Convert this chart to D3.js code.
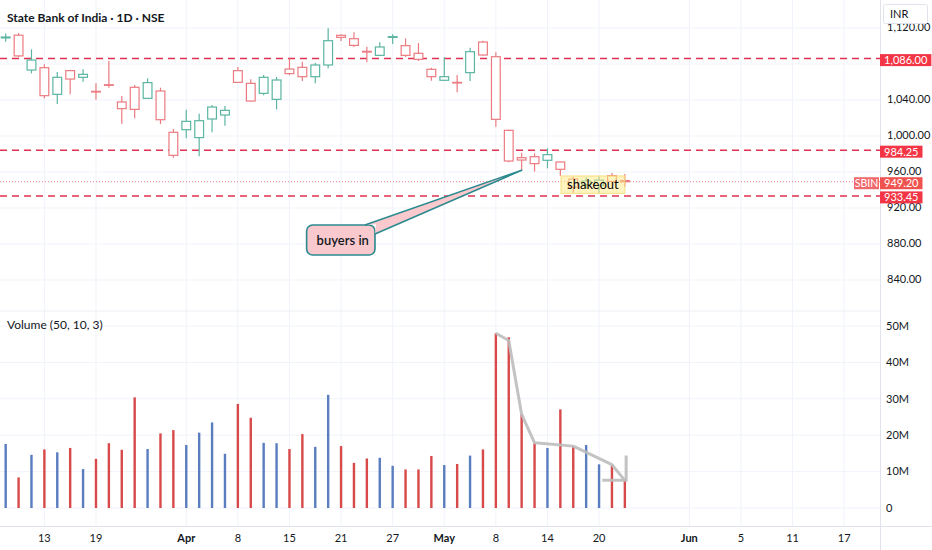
<!DOCTYPE html>
<html>
<head>
<meta charset="utf-8">
<script src="https://cdn.jsdelivr.net/npm/d3@7"></script>
<style>
  body { margin: 0; background: #fff; }
  svg { display: block; font-family: Lato, "Open Sans", sans-serif; }
</style>
</head>
<body>
<svg id="chart" width="932" height="550"></svg>
<script>
// daily bars, oldest first
const open = [1109, 1112, 1073.3, 1075.9, 1046.3, 1072.6, 1065.2, 1049.6, 1057, 1037.8,
  1054.1, 1041.8, 1050, 1004.1, 1007, 998.2, 1018.9, 1023.3, 1072.6, 1058.5,
  1047.4, 1040.7, 1074.4, 1076.3, 1065.9, 1078.9, 1111.9, 1108.1, 1094.1, 1089.6,
  1109.6, 1100.4, 1091.9, 1074.1, 1061.9, 1059.6, 1070.4, 1104.4, 1088.1, 1006.3,
  975.9, 977, 973, 971.1, 952.2, 946, 945, 956, 950.5];
const high = [1114, 1114.4, 1096.3, 1079.6, 1071.1, 1073.5, 1074.1, 1058.5, 1083.3, 1044.4,
  1056.7, 1064.1, 1053.7, 1007.8, 1029.3, 1024.8, 1034.4, 1033.3, 1076.7, 1063,
  1067.8, 1065.6, 1086.3, 1082.6, 1081.5, 1119.6, 1113, 1115.2, 1099.3, 1104.1,
  1113, 1108.5, 1103.3, 1075.9, 1087.4, 1067.8, 1098.1, 1105.9, 1093, 1007,
  981.5, 980.7, 986.3, 971.5, 954.6, 954, 955, 959, 957.8];
const low = [1104.8, 1087.4, 1069.6, 1041.8, 1035.6, 1046.3, 1060.4, 1040.4, 1053.7, 1013.7,
  1019.6, 1041.1, 1013.3, 975.9, 997.4, 977.4, 1004.1, 1011.5, 1058.9, 1038.1,
  1045.2, 1029.6, 1067.8, 1061.1, 1058.5, 1075.2, 1105.6, 1098.9, 1081.9, 1089.3,
  1102.2, 1087.8, 1083.3, 1061.5, 1061.5, 1048.5, 1061.1, 1089.3, 1010.4, 970.7,
  961.5, 960.4, 964.1, 955.6, 937, 941, 937, 947.5, 943.7];
const close = [1110, 1089, 1084.4, 1044.8, 1065.2, 1063.3, 1068.5, 1048.9, 1056.3, 1030.4,
  1029.6, 1059.3, 1018.1, 978.5, 1016.3, 1017, 1032.2, 1028.5, 1059.6, 1038.9,
  1065.2, 1062.2, 1069.3, 1065.9, 1078.9, 1105.9, 1109.6, 1100.7, 1093.3, 1098.9,
  1110.4, 1089.6, 1085.2, 1065.9, 1065.9, 1058.9, 1093.7, 1090, 1018.5, 972.2,
  973.3, 969.3, 979.3, 963, 943, 950, 951, 949.5, 949.2];
// volume in millions
const volume = [17.6, 8.4, 14.6, 16.1, 15.3, 16.5, 10.7, 13.5, 17.8, 16,
  30.4, 16.2, 20.5, 21.4, 17.3, 20.7, 23.5, 14.9, 28.6, 24.8,
  17.9, 17.8, 16.2, 20.3, 16.8, 31.1, 17, 12.4, 13.6, 13.8,
  11.6, 10.6, 10.6, 14.3, 11.8, 12.1, 14.4, 16.1, 48, 46.9,
  25.7, 17.8, 16.5, 27.1, 16.8, 17.3, 12, 11.8, 7.7];

const tickLabels = ["13", "19", "Apr", "8", "15", "21", "27", "May", "8", "14", "20", "Jun", "5", "11", "17"];
const tickIndex = [3, 7, 14, 18, 22, 26, 30, 34, 38, 42, 46, 53, 57, 61, 65];
const monthLabels = ["Apr", "May", "Jun"];

const priceTicks = [840, 880, 920, 960, 1000, 1040, 1080, 1120];
// 1,080.00 sits under the 1,086.00 tag, so it gets no label
const priceLabelTicks = [840, 880, 920, 960, 1000, 1040, 1120];
const volTicks = [0, 10, 20, 30, 40, 50];

const levels = [1086, 984.25, 933.45];

// hand drawn volume trend line
const trendIndex = [38, 39, 40, 41, 44, 47, 48];
const trendValue = [48, 46, 25.7, 17.9, 17.0, 11.9, 7.6];
const hookIndex = [46.25, 48.1, 48.1];
const hookValue = [7.6, 7.6, 14.4];

const W = 932, H = 550;
const plotRight = 880, axisBottom = 526, paneSplit = 311;
const red = "#eb7b80", teal = "#5bb5a2";
const volRed = "#d84a4a", volBlue = "#5a7dc0";
const dark = "#131722";

const svg = d3.select("#chart");
const x = d3.scaleLinear().domain([-0.44, 67.78]).range([0, plotRight]);
const y = d3.scaleLinear().domain([840, 1120]).range([280, 28]);
const yVol = d3.scaleLinear().domain([0, 50]).range([508, 326]);
const fmt = d3.format(",.2f");

svg.append("rect").attr("width", W).attr("height", H).attr("fill", "#fff");

// grid
const grid = svg.append("g").attr("stroke", "#f0f3fa").attr("stroke-width", 1);
grid.selectAll(".vg").data(tickIndex).join("line")
  .attr("x1", (d) => x(d)).attr("x2", (d) => x(d))
  .attr("y1", 0).attr("y2", axisBottom);
grid.selectAll(".pg").data(priceTicks).join("line")
  .attr("x1", 0).attr("x2", plotRight)
  .attr("y1", (d) => y(d)).attr("y2", (d) => y(d));
grid.selectAll(".volg").data(volTicks).join("line")
  .attr("x1", 0).attr("x2", plotRight)
  .attr("y1", (d) => yVol(d)).attr("y2", (d) => yVol(d));
svg.append("line").attr("x1", 0).attr("x2", plotRight)
  .attr("y1", paneSplit).attr("y2", paneSplit).attr("stroke", "#eceef3");

// horizontal levels
svg.append("g").selectAll("line").data(levels).join("line")
  .attr("x1", 0).attr("x2", plotRight)
  .attr("y1", (d) => y(d)).attr("y2", (d) => y(d))
  .attr("stroke", "#e0314f").attr("stroke-width", 1.5)
  .attr("stroke-dasharray", "7,5");

const lastPrice = close[close.length - 1];
svg.append("line").attr("x1", 0).attr("x2", plotRight)
  .attr("y1", y(lastPrice)).attr("y2", y(lastPrice))
  .attr("stroke", "#f07888").attr("stroke-dasharray", "1,2");

// candles
const bars = d3.range(close.length);
const bodyW = (x(1) - x(0)) * 0.68;
const candle = svg.append("g").selectAll("g").data(bars).join("g");
candle.append("line")
  .attr("x1", (i) => x(i)).attr("x2", (i) => x(i))
  .attr("y1", (i) => y(high[i])).attr("y2", (i) => y(low[i]))
  .attr("stroke", (i) => (close[i] >= open[i] ? teal : red))
  .attr("stroke-width", 1.2);
candle.append("rect")
  .attr("x", (i) => x(i) - bodyW / 2)
  .attr("width", bodyW)
  .attr("y", (i) => y(Math.max(open[i], close[i])))
  .attr("height", (i) => Math.max(0.5, Math.abs(y(open[i]) - y(close[i]))))
  .attr("fill", "#fff")
  .attr("stroke", (i) => (close[i] >= open[i] ? teal : red))
  .attr("stroke-width", 1.2);

// volume
svg.append("g").selectAll("rect").data(bars).join("rect")
  .attr("x", (i) => x(i) - 1.2)
  .attr("width", 2.4)
  .attr("y", (i) => yVol(volume[i]))
  .attr("height", (i) => yVol(0) - yVol(volume[i]))
  .attr("fill", (i) => (close[i] >= open[i] ? volBlue : volRed));

const trendLine = d3.line().x((d) => x(d[0])).y((d) => yVol(d[1]));
svg.append("path")
  .attr("d", trendLine(d3.zip(trendIndex, trendValue)))
  .attr("fill", "none").attr("stroke", "#bdbdbd").attr("stroke-width", 3)
  .attr("stroke-linejoin", "round").attr("stroke-opacity", 0.9);
svg.append("path")
  .attr("d", trendLine(d3.zip(hookIndex, hookValue)))
  .attr("fill", "none").attr("stroke", "#bdbdbd").attr("stroke-width", 3)
  .attr("stroke-opacity", 0.9);

svg.append("text").attr("x", 7).attr("y", 329)
  .attr("font-size", 12).attr("fill", dark)
  .text("Volume (50, 10, 3)");

// annotations
const shake = { i0: 43.05, i1: 48.0, p0: 955.6, p1: 936.3 };
svg.append("rect")
  .attr("x", x(shake.i0)).attr("y", y(shake.p0))
  .attr("width", x(shake.i1) - x(shake.i0))
  .attr("height", y(shake.p1) - y(shake.p0))
  .attr("fill", "rgba(255, 234, 130, 0.5)")
  .attr("stroke", "rgba(245, 222, 120, 0.9)");
svg.append("text")
  .attr("x", (x(shake.i0) + x(shake.i1)) / 2).attr("y", y(shake.p1) - 4)
  .attr("text-anchor", "middle").attr("font-size", 13).attr("fill", "#000")
  .text("shakeout");

const callout = { i0: 23.33, i1: 28.63, p0: 901.1, p1: 867.8 };
const tip = [40, 962];
const baseA = [27.85, 901.1];
const baseC = [28.63, 891.1];
const pink = "#f9c9cd", tealEdge = "#2b8a8f";
svg.append("rect")
  .attr("x", x(callout.i0)).attr("y", y(callout.p0))
  .attr("width", x(callout.i1) - x(callout.i0))
  .attr("height", y(callout.p1) - y(callout.p0))
  .attr("rx", 6)
  .attr("fill", pink).attr("stroke", tealEdge).attr("stroke-width", 1.6);
const pt = (d) => [x(d[0]), y(d[1])];
svg.append("path")
  .attr("d", "M" + [pt(baseA), pt(tip), pt(baseC), [x(callout.i1) + 1, y(callout.p0) - 1]].join("L") + "Z")
  .attr("fill", pink);
svg.append("path")
  .attr("d", "M" + [pt(baseA), pt(tip), pt(baseC)].join("L"))
  .attr("fill", "none").attr("stroke", tealEdge).attr("stroke-width", 1.6)
  .attr("stroke-linejoin", "round");
svg.append("text")
  .attr("x", x(callout.i0) + 10).attr("y", (y(callout.p0) + y(callout.p1)) / 2 + 5)
  .attr("font-size", 13).attr("font-weight", 600).attr("fill", dark)
  .text("buyers in");

// title
svg.append("text").attr("x", 7).attr("y", 22)
  .attr("font-size", 12).attr("font-weight", 700).attr("fill", dark)
  .text("State Bank of India · 1D · NSE");

// right axis
svg.append("rect").attr("x", plotRight).attr("y", 0)
  .attr("width", W - plotRight).attr("height", H).attr("fill", "#fff");
svg.append("line").attr("x1", plotRight + 0.5).attr("x2", plotRight + 0.5)
  .attr("y1", 0).attr("y2", H).attr("stroke", "#e0e3eb");
svg.append("line").attr("x1", 0).attr("x2", W)
  .attr("y1", axisBottom + 0.5).attr("y2", axisBottom + 0.5).attr("stroke", "#e0e3eb");

svg.append("g").selectAll("text").data(priceLabelTicks).join("text")
  .attr("x", 887).attr("y", (d) => y(d)).attr("dy", "0.28em")
  .attr("font-size", 11).attr("fill", dark)
  .text((d) => fmt(d));
svg.append("g").selectAll("text").data(volTicks).join("text")
  .attr("x", 886).attr("y", (d) => yVol(d)).attr("dy", "0.35em")
  .attr("font-size", 11).attr("fill", dark)
  .text((d) => (d === 0 ? "0" : d + "M"));

const tagH = 12;
const priceTag = (value, color) => {
  const g = svg.append("g");
  const r = g.append("rect").attr("x", plotRight).attr("y", y(value) - tagH / 2 + 1.5)
    .attr("height", tagH).attr("fill", color);
  const t = g.append("text").attr("x", plotRight + 4).attr("y", y(value) + 1.5)
    .attr("dy", "0.35em").attr("font-size", 11).attr("fill", "#fff")
    .text(fmt(value));
  r.attr("width", t.node().getComputedTextLength() + 8);
};
levels.forEach((d) => priceTag(d, "#f23645"));
priceTag(lastPrice, "#ef5350");
const sym = svg.append("g");
sym.append("rect").attr("x", plotRight - 26).attr("y", y(lastPrice) - tagH / 2 + 1.5)
  .attr("width", 25).attr("height", tagH).attr("fill", "#f0686c");
sym.append("text").attr("x", plotRight - 13.5).attr("y", y(lastPrice) + 1.5)
  .attr("dy", "0.35em").attr("text-anchor", "middle")
  .attr("font-size", 10.5).attr("fill", "#fff").text("SBIN");

svg.append("rect").attr("x", 883.5).attr("y", 4.5)
  .attr("width", 44).attr("height", 19).attr("rx", 2)
  .attr("fill", "#fff").attr("stroke", "#e0e3eb");
svg.append("text").attr("x", 890).attr("y", 18)
  .attr("font-size", 11).attr("fill", dark).text("INR");

// time axis
svg.append("g").selectAll("text").data(tickIndex).join("text")
  .attr("x", (d) => x(d)).attr("y", 542)
  .attr("text-anchor", "middle").attr("font-size", 11).attr("fill", dark)
  .attr("font-weight", (d, k) => (monthLabels.includes(tickLabels[k]) ? 700 : 400))
  .text((d, k) => tickLabels[k]);
</script>
</body>
</html>
